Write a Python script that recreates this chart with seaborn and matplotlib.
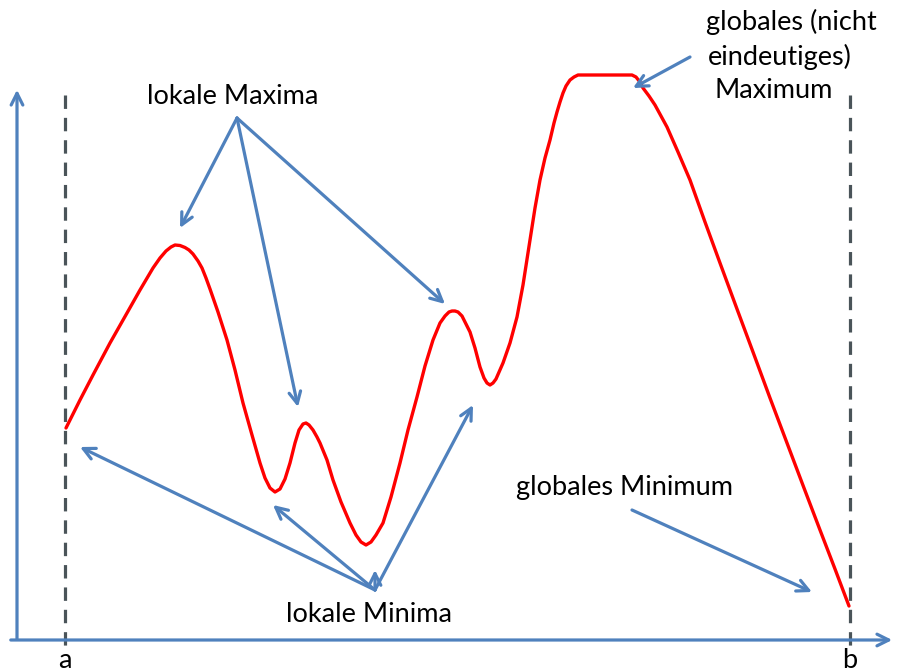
import seaborn as sns
import matplotlib.pyplot as plt
import pandas as pd

# curve (pixel coords, y pointing down)
curve_x = [66, 80, 93, 110, 127, 140, 153, 160, 166, 171, 175, 180, 185, 189, 193, 198, 202, 206, 210,
           218, 227, 235, 243, 252, 260, 265, 270, 275, 280, 285, 290, 295, 299, 303, 306, 309, 313,
           317, 320, 327, 333, 341, 350, 356, 361, 366, 371, 376, 383, 391, 400, 408, 417, 425, 433,
           440, 445, 449, 452, 455, 458, 462, 466, 470, 475, 480, 484, 487, 490, 493, 496, 503, 510,
           517, 523, 530, 535, 540, 545, 550, 554, 557, 560, 563, 566, 570, 574, 578, 628, 632, 636,
           640, 643, 649, 655, 661, 667, 678, 690, 705, 720, 737, 753, 770, 787, 804, 820, 835, 849]
curve_y = [428, 400, 375, 343, 313, 290, 268, 258, 251, 247, 245, 245.5, 247.5, 250, 254, 261, 268, 278,
           289, 312, 340, 370, 403, 435, 463, 478, 488, 492, 489, 479, 463, 443, 430, 424, 423, 425,
           430, 437, 443, 460, 480, 502, 523, 535, 542, 545, 542, 535, 523, 497, 463, 430, 397, 366,
           340, 323, 316, 312, 311, 311, 312, 316, 324, 332, 348, 367, 378, 383, 385, 383, 379, 363,
           343, 317, 285, 240, 208, 180, 158, 140, 123, 112, 102, 93, 86, 80, 77, 75, 75, 75, 77,
           82, 88, 96, 105, 116, 127, 152, 180, 222, 263, 309, 352, 398, 443, 488, 530, 569, 606]

a_x, b_x = 65, 850

# annotation texts: (text, x, y)
labels = [("lokale Maxima", 233, 96), ("lokale Minima", 369, 614),
          ("globales (nicht", 791, 22), ("eindeutiges)", 780, 57), ("Maximum", 774, 91),
          ("globales Minimum", 624, 487), ("a", 65, 660), ("b", 850, 660)]

# arrows: (tip x, tip y, tail x, tail y)
arrows = [(180, 228, 237, 118), (298, 407, 237, 118), (445, 304, 237, 118),
          (80, 447, 375, 590), (273, 505, 375, 590), (375, 570, 375, 590), (473, 405, 375, 590),
          (633, 88, 690, 57), (812, 592, 632, 510)]

sns.set_theme(style="white")
plt.rcParams['font.family'] = ['Lato', 'DejaVu Sans']

fig = plt.figure(figsize=(8.98, 6.71), dpi=100)
ax = fig.add_axes([0, 0, 1, 1])

blue = "#4F81BD"
head = "->,head_length=0.7,head_width=0.35"

# dashed borders a and b
for xv in (a_x, b_x):
    ax.plot([xv, xv], [95, 652], color="#4a5459", lw=2.3, dashes=(4.2, 2.8))

# coordinate axes
ax.annotate("", xy=(895, 640), xytext=(8, 640),
            arrowprops=dict(arrowstyle=head, color=blue, lw=2.3))
ax.annotate("", xy=(17, 87), xytext=(17, 642),
            arrowprops=dict(arrowstyle=head, color=blue, lw=2.3))

df = pd.DataFrame({"x": curve_x, "y": curve_y})
sns.lineplot(data=df, x="x", y="y", sort=False, color="#FF0000", lw=2.4,
             solid_joinstyle="round", ax=ax)
ax.set_xlim(0, 898)
ax.set_ylim(671, 0)
ax.axis("off")

for tx, ty, sx, sy in arrows:
    ax.annotate("", xy=(tx, ty), xytext=(sx, sy),
                arrowprops=dict(arrowstyle=head, color=blue, lw=2.3, shrinkA=0, shrinkB=0))

for t, x, y in labels:
    ax.text(x, y, t, ha="center", va="center", fontsize=19.5, color="black")

fig.savefig("out.png", dpi=100)
